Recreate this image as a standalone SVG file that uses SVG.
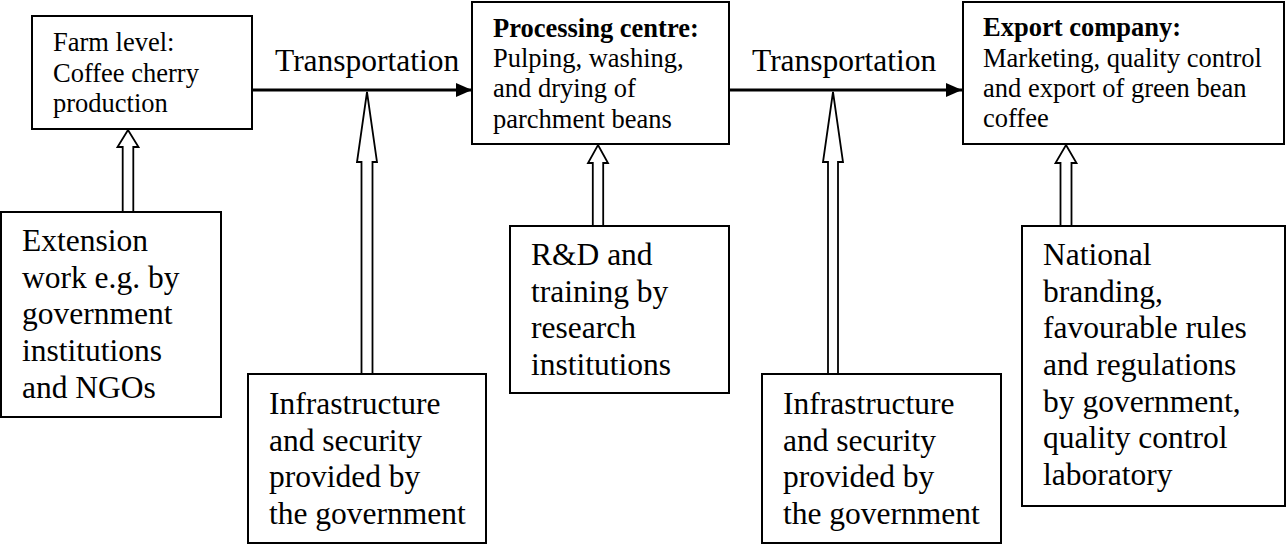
<svg xmlns="http://www.w3.org/2000/svg" width="1286" height="545" viewBox="0 0 1286 545">
<style>
.box{fill:#fff;stroke:#000;stroke-width:2}
.t{font-family:"Liberation Serif","Times New Roman",serif;fill:#000}
.s{font-size:26.5px}
.l{font-size:31.5px}
.b{font-weight:bold}
.main{fill:none;stroke:#000;stroke-width:3}
.hollow{fill:#fff;stroke:#000;stroke-width:1.8;stroke-linejoin:miter}
</style>
<defs>
<marker id="ah" markerUnits="userSpaceOnUse" markerWidth="16" markerHeight="16" refX="16" refY="8" orient="auto">
<path d="M0,1 L16,8 L0,15 Z" fill="#000"/>
</marker>
</defs>
<rect width="1286" height="545" fill="#fff"/>
<g id="connectors">
<line class="main" x1="247" y1="90" x2="472" y2="90" marker-end="url(#ah)"/>
<line class="main" x1="729" y1="90" x2="962" y2="90" marker-end="url(#ah)"/>
<path class="hollow" d="M128,130 L138.5,147 L133.3,147 L133.3,212 L122.7,212 L122.7,147 L117.5,147 Z"/>
<path class="hollow" d="M367,92 L377,162 L372.5,162 L372.5,374 L361.5,374 L361.5,162 L357,162 Z"/>
<path class="hollow" d="M598,145 L608,163 L603.2,163 L603.2,226 L592.8,226 L592.8,163 L588,163 Z"/>
<path class="hollow" d="M833,92 L843,162 L838,162 L838,374 L828,374 L828,162 L823,162 Z"/>
<path class="hollow" d="M1066,145 L1076.5,163 L1071.5,163 L1071.5,226 L1060.5,226 L1060.5,163 L1055.5,163 Z"/>
</g>
<g id="farm">
<rect class="box" x="32" y="16" width="220" height="113"/>
<text class="t s" x="53" y="51">Farm level:</text>
<text class="t s" x="53" y="82">Coffee cherry</text>
<text class="t s" x="53" y="112">production</text>
</g>
<g id="transport1-label">
<text class="t l" x="275" y="71">Transportation</text>
</g>
<g id="processing">
<rect class="box" x="472" y="2" width="257" height="142"/>
<text class="t s b" x="493" y="37">Processing centre:</text>
<text class="t s" x="493" y="67">Pulping, washing,</text>
<text class="t s" x="493" y="97">and drying of</text>
<text class="t s" x="493" y="128">parchment beans</text>
</g>
<g id="transport2-label">
<text class="t l" x="752" y="71">Transportation</text>
</g>
<g id="export">
<rect class="box" x="963" y="2" width="321" height="142"/>
<text class="t s b" x="983" y="36">Export company:</text>
<text class="t s" x="983" y="67">Marketing, quality control</text>
<text class="t s" x="983" y="97">and export of green bean</text>
<text class="t s" x="983" y="127">coffee</text>
</g>
<g id="extension">
<rect class="box" x="1" y="212" width="220" height="205"/>
<text class="t l" x="22" y="251">Extension</text>
<text class="t l" x="22" y="288">work e.g. by</text>
<text class="t l" x="22" y="324">government</text>
<text class="t l" x="22" y="361">institutions</text>
<text class="t l" x="22" y="398">and NGOs</text>
</g>
<g id="infrastructure1">
<rect class="box" x="248" y="374" width="238" height="169"/>
<text class="t l" x="269" y="414">Infrastructure</text>
<text class="t l" x="269" y="451">and security</text>
<text class="t l" x="269" y="487">provided by</text>
<text class="t l" x="269" y="524">the government</text>
</g>
<g id="research">
<rect class="box" x="510" y="226" width="219" height="167"/>
<text class="t l" x="531" y="265">R&amp;D and</text>
<text class="t l" x="531" y="302">training by</text>
<text class="t l" x="531" y="338">research</text>
<text class="t l" x="531" y="375">institutions</text>
</g>
<g id="infrastructure2">
<rect class="box" x="762" y="374" width="239" height="169"/>
<text class="t l" x="783" y="414">Infrastructure</text>
<text class="t l" x="783" y="451">and security</text>
<text class="t l" x="783" y="487">provided by</text>
<text class="t l" x="783" y="524">the government</text>
</g>
<g id="national">
<rect class="box" x="1022" y="226" width="263" height="280"/>
<text class="t l" x="1043" y="265">National</text>
<text class="t l" x="1043" y="302">branding,</text>
<text class="t l" x="1043" y="338">favourable rules</text>
<text class="t l" x="1043" y="375">and regulations</text>
<text class="t l" x="1043" y="412">by government,</text>
<text class="t l" x="1043" y="448">quality control</text>
<text class="t l" x="1043" y="485">laboratory</text>
</g>
</svg>
